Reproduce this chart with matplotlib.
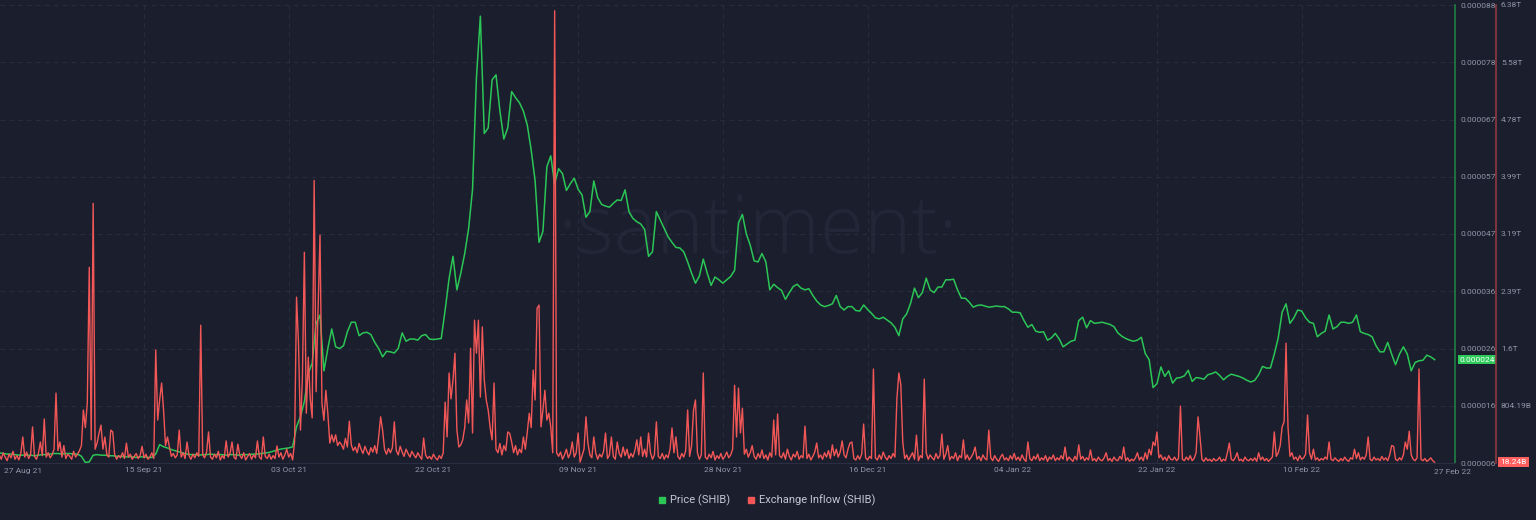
import numpy as np
import pandas as pd
import matplotlib
matplotlib.use("Agg")
import matplotlib.pyplot as plt
import matplotlib.transforms as mtransforms
from matplotlib.lines import Line2D
from matplotlib.patches import Rectangle

# ---- data ----
# SHIB price, 12h steps, in millionths of a USD
price_start = "2021-08-27 12:00"
price_micro = [
    7.8, 7.7, 7.6, 7.6, 7.5, 7.4, 7.4, 7.4, 7.4, 7.3, 7.4, 7.5, 7.5, 7.6, 7.7, 7.7, 7.6, 7.7, 7.7, 7.6,
    7.6, 7.2, 6.1, 6.2, 7.4, 7.5, 7.4, 7.4, 7.3, 7.3, 7.2, 7.2, 7.1, 7.1, 7.1, 7.0, 7.1, 7.1, 7.0, 7.0,
    7.6, 9.3, 8.9, 8.7, 8.4, 8.2, 8.0, 7.8, 7.6, 7.5, 7.5, 7.4, 7.5, 7.5, 7.6, 7.5, 7.5, 7.5, 7.4, 7.5,
    7.5, 7.4, 7.5, 7.5, 7.5, 7.6, 7.6, 7.7, 7.8, 7.9, 8.1, 8.3, 8.5, 8.6, 8.7, 8.9, 12.5, 14.3, 17.0, 22.0,
    23.9, 31.0, 32.5, 22.5, 26.5, 30.0, 26.8, 26.5, 27.0, 29.5, 31.2, 31.2, 28.8, 29.3, 29.4, 29.0, 27.6, 26.5, 25.0, 26.0,
    25.9, 25.7, 26.5, 29.3, 27.8, 28.2, 28.2, 28.0, 28.8, 29.0, 28.2, 28.1, 28.2, 28.3, 33.4, 39.0, 43.0, 37.0, 40.0, 43.5,
    48.0, 55.0, 75.0, 86.0, 65.0, 66.0, 74.6, 75.5, 69.0, 64.0, 66.0, 72.5, 71.4, 70.5, 69.0, 66.5, 62.0, 56.5, 45.5, 47.5,
    59.0, 61.0, 56.0, 58.7, 57.8, 54.8, 56.0, 57.0, 55.0, 54.0, 50.0, 51.0, 56.5, 53.5, 52.3, 52.0, 51.8, 52.5, 53.1, 53.0,
    54.9, 51.0, 49.8, 49.2, 48.8, 47.8, 43.0, 43.8, 51.0, 49.5, 48.0, 46.5, 45.5, 44.6, 44.5, 43.8, 42.0, 40.0, 38.2, 39.5,
    42.5, 40.0, 37.8, 39.3, 38.8, 38.2, 38.8, 39.4, 40.5, 49.0, 50.5, 47.0, 45.0, 42.2, 42.0, 43.5, 42.0, 37.0, 38.0, 37.4,
    36.9, 35.3, 36.5, 37.6, 38.0, 37.3, 37.0, 37.2, 36.0, 35.0, 34.3, 34.0, 34.2, 34.5, 36.0, 34.0, 33.4, 34.0, 34.0, 33.3,
    33.2, 34.3, 33.5, 32.8, 32.0, 31.8, 32.1, 31.6, 31.1, 30.3, 28.8, 31.8, 32.7, 34.6, 37.3, 35.6, 36.5, 39.1, 37.0, 36.5,
    37.5, 37.5, 38.8, 38.8, 38.9, 37.0, 35.5, 35.5, 34.8, 33.9, 34.2, 34.3, 34.1, 33.9, 34.0, 34.1, 34.0, 34.0, 33.6, 33.0,
    33.0, 32.9, 31.5, 30.3, 30.8, 29.6, 29.4, 29.5, 28.0, 28.4, 29.2, 28.2, 26.8, 27.3, 27.8, 28.0, 31.5, 32.1, 30.2, 31.5,
    31.0, 31.1, 31.2, 31.0, 30.8, 30.4, 29.3, 28.7, 28.3, 28.0, 27.8, 28.0, 28.5, 25.6, 24.5, 19.5, 20.2, 23.2, 21.5, 22.5,
    20.3, 21.2, 21.3, 21.6, 22.6, 20.6, 21.3, 21.2, 21.0, 21.8, 22.0, 22.3, 21.7, 20.9, 21.5, 21.9, 21.7, 21.5, 21.2, 20.8,
    20.5, 20.8, 21.8, 23.3, 23.0, 23.0, 25.5, 28.4, 33.0, 34.5, 31.0, 32.0, 33.4, 33.2, 32.0, 31.2, 31.0, 28.6, 29.2, 29.6,
    32.5, 30.0, 30.4, 31.2, 31.2, 31.0, 31.2, 32.5, 29.5, 29.2, 29.0, 28.6, 27.0, 25.9, 25.9, 27.6, 25.5, 23.6, 25.5, 26.8,
    25.5, 22.5, 24.0, 24.3, 24.4, 25.3, 25.0, 24.5,
]

# exchange inflow, 6h steps, in billions of SHIB
inflow_start = "2021-08-27 12:00"
inflow_bn = [
    120, 60, 150, 90, 40, 130, 80, 170, 60, 110, 50, 140, 370, 90, 160, 70, 120, 510, 100, 60,
    140, 300, 110, 620, 90, 150, 80, 120, 200, 980, 180, 300, 90, 250, 70, 130, 100, 60, 170, 90,
    130, 180, 250, 745, 500, 840, 2730, 330, 3620, 200, 285, 425, 535, 200, 370, 120, 90, 465, 440, 120,
    60, 110, 80, 150, 70, 285, 90, 130, 60, 100, 140, 70, 110, 240, 80, 130, 60, 90, 150, 70,
    1580, 605, 885, 1120, 745, 250, 370, 230, 100, 140, 80, 120, 465, 90, 150, 70, 300, 110, 60, 130,
    80, 150, 100, 1925, 120, 80, 160, 440, 90, 60, 130, 80, 170, 50, 110, 70, 315, 90, 140, 300,
    90, 60, 270, 110, 70, 150, 50, 100, 140, 60, 120, 80, 315, 90, 60, 370, 100, 70, 130, 60,
    110, 70, 245, 90, 150, 60, 120, 200, 90, 140, 50, 300, 2315, 1675, 465, 1200, 2940, 700, 1480, 900,
    635, 3940, 1000, 2135, 3180, 840, 600, 1020, 700, 285, 400, 300, 400, 250, 300, 260, 200, 350, 230, 590,
    260, 180, 230, 150, 280, 200, 140, 240, 170, 120, 220, 160, 250, 140, 370, 650, 465, 200, 130, 210,
    150, 220, 580, 180, 120, 240, 160, 100, 200, 140, 90, 170, 120, 80, 150, 100, 60, 355, 120, 70,
    100, 60, 130, 80, 50, 110, 70, 150, 855, 370, 1260, 900, 1160, 1535, 465, 230, 260, 330, 500, 885,
    565, 1605, 425, 1995, 1535, 1995, 925, 1900, 1160, 885, 745, 500, 330, 1120, 200, 150, 280, 120, 250, 180,
    440, 420, 300, 150, 250, 120, 200, 150, 370, 200, 440, 700, 500, 1300, 885, 2160, 2205, 510, 745, 1020,
    605, 700, 510, 150, 6300, 150, 100, 160, 60, 120, 200, 80, 140, 300, 90, 150, 425, 20, 110, 200,
    650, 285, 120, 80, 370, 150, 60, 130, 90, 170, 425, 70, 120, 370, 100, 60, 300, 140, 90, 230,
    110, 200, 70, 140, 90, 180, 330, 120, 370, 100, 200, 90, 425, 150, 60, 120, 580, 100, 70, 140,
    60, 120, 80, 200, 495, 150, 370, 100, 60, 140, 90, 180, 745, 100, 250, 745, 885, 150, 60, 120,
    1260, 90, 60, 130, 80, 170, 50, 110, 70, 140, 60, 100, 160, 80, 120, 200, 1090, 370, 1050, 425,
    770, 130, 200, 90, 150, 250, 100, 60, 140, 80, 190, 70, 120, 50, 150, 90, 605, 120, 690, 110,
    80, 150, 60, 200, 100, 50, 130, 90, 170, 60, 110, 80, 520, 70, 130, 50, 100, 160, 285, 80,
    120, 60, 150, 90, 180, 70, 260, 110, 200, 90, 160, 315, 120, 80, 200, 285, 300, 70, 50, 110,
    60, 130, 550, 80, 50, 100, 70, 1315, 80, 50, 120, 60, 160, 90, 50, 110, 70, 140, 90, 900,
    1260, 1100, 300, 70, 120, 50, 100, 150, 60, 395, 40, 110, 80, 1175, 150, 60, 120, 80, 50, 140,
    70, 110, 410, 60, 130, 250, 50, 100, 70, 150, 40, 110, 80, 330, 60, 120, 50, 90, 140, 230,
    60, 100, 40, 120, 70, 50, 465, 80, 40, 110, 60, 30, 90, 130, 50, 80, 40, 110, 60, 140,
    50, 90, 40, 120, 60, 30, 300, 70, 40, 100, 60, 130, 40, 80, 50, 110, 30, 90, 60, 120,
    40, 80, 50, 110, 60, 230, 40, 90, 60, 30, 100, 50, 260, 60, 100, 40, 80, 50, 190, 40,
    70, 30, 90, 50, 40, 80, 150, 40, 70, 30, 90, 50, 40, 100, 60, 230, 40, 80, 30, 60,
    40, 80, 150, 50, 90, 40, 150, 60, 200, 120, 300, 250, 440, 80, 120, 50, 90, 40, 110, 60,
    50, 90, 40, 70, 800, 60, 40, 90, 50, 110, 40, 70, 150, 650, 370, 60, 30, 80, 40, 60,
    30, 70, 40, 50, 90, 30, 60, 40, 150, 285, 60, 40, 80, 150, 40, 60, 30, 90, 50, 40,
    70, 40, 80, 30, 150, 50, 90, 40, 70, 30, 60, 90, 440, 100, 150, 250, 510, 580, 1675, 510,
    100, 150, 60, 90, 40, 110, 60, 80, 130, 675, 150, 60, 200, 50, 80, 40, 70, 50, 90, 60,
    300, 60, 40, 80, 50, 30, 70, 40, 90, 50, 30, 80, 60, 200, 70, 150, 50, 90, 60, 120,
    370, 60, 40, 90, 50, 70, 40, 100, 50, 80, 40, 120, 250, 240, 60, 40, 80, 50, 120, 300,
    200, 450, 120, 60, 40, 80, 1315, 60, 40, 70, 30, 50, 80, 40, 18.24,
]

price_tick_labels = ["0.000006", "0.000016", "0.000026", "0.000036", "0.000047",
                     "0.000057", "0.000067", "0.000078", "0.000088"]
inflow_tick_labels = ["", "804.19B", "1.6T", "2.39T", "3.19T",
                      "3.99T", "4.78T", "5.58T", "6.38T"]
first_date_label = "27 Aug 21"
last_date_label = "27 Feb 22"
last_price_label = "0.000024"
series_names = ["Price (SHIB)", "Exchange Inflow (SHIB)"]

# ---- styling ----
bg = "#1b1e2d"
green = "#2bc656"
red = "#f25757"
tick_col = "#9195a8"
grid_col = "#282c3d"
fs = 6.0

plt.rcParams["font.family"] = ["Roboto", "DejaVu Sans"]

price = np.array(price_micro) * 1e-6
price_dates = pd.date_range(price_start, periods=len(price), freq="12h")
inflow = np.array(inflow_bn, dtype=float)
inflow_dates = pd.date_range(inflow_start, periods=len(inflow), freq="6h")

fig = plt.figure(figsize=(15.36, 5.2), dpi=100, facecolor=bg)
ax = fig.add_axes([0, 57 / 520, 1455 / 1536, 458 / 520])
ax.set_facecolor(bg)

# watermark
ax.text(758 / 1455, 210 / 458, "\u00b7santiment\u00b7", transform=ax.transAxes,
        ha="center", va="baseline", fontsize=58, fontweight="light",
        family=["Open Sans", "DejaVu Sans"], color="#222637", zorder=0)

ax.plot(price_dates, price, color=green, lw=1.1, zorder=3)

x_lo = pd.Timestamp("2021-08-27 14:09")
x_hi = pd.Timestamp("2022-03-01 14:24")
ax.set_xlim(x_lo, x_hi)
ax.set_ylim(6e-6, 88e-6)

tick_dates = pd.Timestamp("2021-09-15") + pd.to_timedelta(np.arange(9) * 18.5, unit="D")
ax.set_xticks(tick_dates)
ax.set_xticklabels([d.strftime("%d %b %y") for d in tick_dates])
ax.set_yticks(np.linspace(6e-6, 88e-6, 9))
ax.set_yticklabels(price_tick_labels)
ax.set_axisbelow(True)
ax.grid(True, color=grid_col, ls=(0, (4, 4)), lw=0.8)

for s in ["top", "left"]:
    ax.spines[s].set_visible(False)
ax.spines["bottom"].set_color("#2a2e40")
ax.spines["bottom"].set_linewidth(0.8)
ax.spines["right"].set_color("#1e8043")
ax.spines["right"].set_linewidth(1.2)

ax.text(4 / 1455, -8.5 / 458, first_date_label, transform=ax.transAxes,
        ha="left", va="center", fontsize=fs, color=tick_col)
ax.text(1452 / 1455, -8.5 / 458, last_date_label, transform=ax.transAxes,
        ha="center", va="center", fontsize=fs, color=tick_col, clip_on=False)

# inflow on its own axis, drawn on top
ax2 = ax.twinx()
ax2.plot(inflow_dates, inflow, color=red, lw=1.0, zorder=3)
ax2.set_ylim(7.7, 6380)
ax2.set_yticks(np.linspace(7.7, 6380, 9))
ax2.set_yticklabels(inflow_tick_labels)
ax2.tick_params(axis="y", length=0, pad=3.6, labelsize=fs, labelcolor=tick_col)
for s in ["top", "left", "bottom"]:
    ax2.spines[s].set_visible(False)
ax2.spines["right"].set_position(("outward", 29.5))
ax2.spines["right"].set_color("#8e3a40")
ax2.spines["right"].set_linewidth(1.2)

# twinx moved the price ticks to the left, put them back on the right
ax.yaxis.tick_right()
ax.yaxis.set_label_position("right")
ax.tick_params(axis="x", length=0, pad=2.6, labelsize=fs, labelcolor=tick_col)
ax.tick_params(axis="y", length=0, pad=4.3, labelsize=fs, labelcolor=tick_col)

# last value markers on the axes
tp = mtransforms.blended_transform_factory(ax.transAxes, ax.transData)
hp = 9.5 / 458 * (88e-6 - 6e-6)
ax.add_patch(Rectangle((1458 / 1455, price[-1] - hp / 2), 38 / 1455, hp, transform=tp,
                       facecolor="#2ecb5a", edgecolor="none", clip_on=False, zorder=6))
ax.text(1477 / 1455, price[-1], last_price_label, transform=tp, ha="center", va="center",
        fontsize=fs, color="white", clip_on=False, zorder=7)

ti = mtransforms.blended_transform_factory(ax2.transAxes, ax2.transData)
hi = 9.5 / 458 * (6380 - 7.7)
ax2.add_patch(Rectangle((1498 / 1455, inflow[-1] - hi / 2), 31 / 1455, hi, transform=ti,
                        facecolor="#ff5f5f", edgecolor="none", clip_on=False, zorder=6))
ax2.text(1513.5 / 1455, inflow[-1], f"{inflow[-1]:.2f}B", transform=ti, ha="center",
         va="center", fontsize=fs, color="white", clip_on=False, zorder=7)

handles = [Line2D([], [], marker="s", ls="", color=green, markersize=5),
           Line2D([], [], marker="s", ls="", color=red, markersize=5)]
fig.legend(handles, series_names, loc="center", bbox_to_anchor=(767 / 1536, 1 - 500.7 / 520),
           ncol=2, frameon=False, fontsize=8, handlelength=0.7, handletextpad=0.4,
           columnspacing=1.5, labelcolor="#c5c8d3")

fig.savefig("out.png", dpi=100, facecolor=bg)
